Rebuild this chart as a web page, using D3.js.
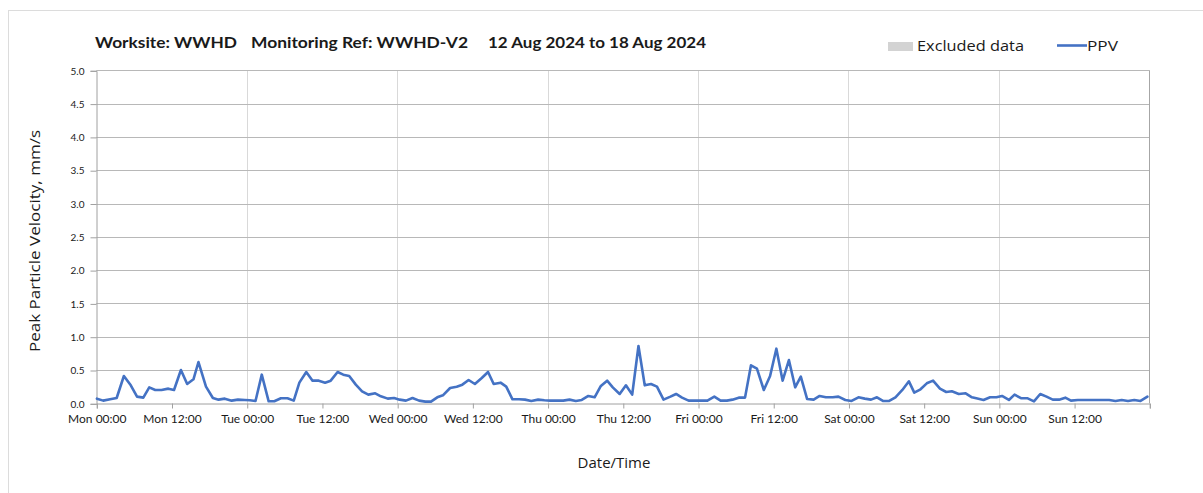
<!DOCTYPE html>
<html>
<head>
<meta charset="utf-8">
<script src="https://cdn.jsdelivr.net/npm/d3@7"></script>
<style>
  html, body { margin: 0; padding: 0; background: #fff; }
  svg { display: block; }
  text { font-family: "Open Sans", "Noto Sans", sans-serif; fill: #1a1a1a; }
</style>
</head>
<body>
<svg id="chart" width="1203" height="493"></svg>
<script>
// ---- data (hours since Mon 12 Aug 2024 00:00, PPV mm/s) ----
const startDate = new Date(2024, 7, 12, 0, 0);
const endDate = new Date(2024, 7, 19, 0, 0);
const titleParts = ["Worksite: WWHD", "Monitoring Ref: WWHD-V2", "12 Aug 2024 to 18 Aug 2024"];
const yTicks = [0, 0.5, 1.0, 1.5, 2.0, 2.5, 3.0, 3.5, 4.0, 4.5, 5.0];
const hours = [
  0.1, 1.1, 2.2, 3.25, 4.4, 5.5, 6.5, 7.5, 8.45, 9.4, 10.4, 11.5, 12.4, 13.5, 14.5, 15.5, 16.3, 17.5, 18.6, 19.5, 20.5, 21.6, 22.6, 23.7,
  24.5, 25.4, 26.4, 27.5, 28.4, 29.45, 30.5, 31.5, 32.4, 33.5, 34.5, 35.5, 36.5, 37.4, 38.5, 39.4, 40.35, 41.4, 42.4, 43.4, 44.5, 45.4, 46.5, 47.5,
  48.4, 49.4, 50.45, 51.5, 52.5, 53.4, 54.4, 55.3, 56.45, 57.5, 58.4, 59.4, 60.4, 61.5, 62.5, 63.4, 64.5, 65.4, 66.4, 67.45, 68.4, 69.4, 70.5, 71.5,
  72.4, 73.5, 74.5, 75.5, 76.5, 77.45, 78.5, 79.5, 80.5, 81.5, 82.4, 83.5, 84.5, 85.5, 86.5, 87.5, 88.5, 89.45, 90.5, 91.6, 92.5, 93.45, 94.5, 95.5,
  96.6, 97.5, 98.6, 99.6, 100.6, 101.5, 102.5, 103.5, 104.45, 105.4, 106.5, 107.5, 108.5, 109.5, 110.5, 111.5, 112.4, 113.4, 114.45, 115.4, 116.4, 117.5, 118.4, 119.5,
  120.5, 121.6, 122.6, 123.6, 124.55, 125.5, 126.5, 127.5, 128.6, 129.65, 130.5, 131.5, 132.5, 133.5, 134.6, 135.6, 136.5, 137.6, 138.7, 139.7, 140.4, 141.55, 142.6, 143.6,
  144.5, 145.6, 146.5, 147.6, 148.6, 149.6, 150.6, 151.6, 152.6, 153.6, 154.6, 155.5, 156.6, 157.6, 158.7, 159.6, 160.6, 161.6, 162.6, 163.6, 164.6, 165.6, 166.6, 167.7
];
const ppv = [
  0.07, 0.04, 0.06, 0.08, 0.41, 0.27, 0.10, 0.085, 0.24, 0.20, 0.20, 0.22, 0.20, 0.50, 0.29, 0.36, 0.62, 0.25, 0.08, 0.055, 0.07, 0.04, 0.055, 0.05,
  0.045, 0.035, 0.43, 0.03, 0.03, 0.075, 0.075, 0.04, 0.31, 0.47, 0.34, 0.34, 0.31, 0.34, 0.47, 0.43, 0.41, 0.28, 0.18, 0.13, 0.15, 0.105, 0.07, 0.08,
  0.055, 0.04, 0.08, 0.04, 0.025, 0.025, 0.09, 0.12, 0.23, 0.25, 0.28, 0.35, 0.29, 0.38, 0.47, 0.29, 0.31, 0.25, 0.06, 0.06, 0.055, 0.035, 0.055, 0.045,
  0.04, 0.04, 0.04, 0.055, 0.035, 0.05, 0.11, 0.09, 0.26, 0.34, 0.24, 0.14, 0.27, 0.13, 0.86, 0.27, 0.29, 0.25, 0.055, 0.10, 0.14, 0.085, 0.04, 0.04,
  0.04, 0.04, 0.10, 0.04, 0.04, 0.055, 0.085, 0.085, 0.57, 0.52, 0.20, 0.41, 0.82, 0.34, 0.65, 0.24, 0.40, 0.065, 0.055, 0.11, 0.09, 0.09, 0.10, 0.05,
  0.035, 0.09, 0.07, 0.055, 0.09, 0.035, 0.035, 0.09, 0.20, 0.33, 0.16, 0.21, 0.30, 0.34, 0.22, 0.17, 0.18, 0.14, 0.15, 0.09, 0.075, 0.05, 0.09, 0.09,
  0.11, 0.05, 0.13, 0.075, 0.075, 0.03, 0.14, 0.10, 0.055, 0.055, 0.085, 0.04, 0.05, 0.05, 0.05, 0.05, 0.05, 0.05, 0.035, 0.05, 0.035, 0.05, 0.035, 0.10
];
const legendLabels = ["Excluded data", "PPV"];
const xTitle = "Date/Time";
const yTitle = "Peak Particle Velocity, mm/s";

// ---- layout ----
const svg = d3.select("#chart");
const W = 1203, H = 493;
const plot = { left: 96.3, right: 1149.3, top: 70.3, bottom: 403.3 };

svg.append("rect").attr("x", 8.5).attr("y", 10.5).attr("width", W).attr("height", H)
  .attr("fill", "#fff").attr("stroke", "#dcdcdc");

const x = d3.scaleTime().domain([startDate, endDate]).range([plot.left, plot.right]);
const y = d3.scaleLinear().domain([0, 5]).range([plot.bottom, plot.top]);

const data = hours.map((h, i) => ({ t: new Date(startDate.getTime() + h * 3600e3), v: ppv[i] }));

// vertical day gridlines
const dayTicks = d3.timeDay.range(d3.timeDay.offset(startDate, 1), endDate);
svg.append("g").selectAll("line").data(dayTicks).join("line")
  .attr("x1", d => Math.round(x(d)) + 0.5).attr("x2", d => Math.round(x(d)) + 0.5)
  .attr("y1", plot.top).attr("y2", plot.bottom)
  .attr("stroke", "#d9d9d9").attr("stroke-width", 1);

// horizontal gridlines
svg.append("g").selectAll("line").data(yTicks.filter(d => d > 0)).join("line")
  .attr("x1", plot.left).attr("x2", plot.right)
  .attr("y1", d => Math.round(y(d)) + 0.5).attr("y2", d => Math.round(y(d)) + 0.5)
  .attr("stroke", "#b8b8b8").attr("stroke-width", 1);

// right border
svg.append("line").attr("x1", Math.round(plot.right) + 0.5).attr("x2", Math.round(plot.right) + 0.5)
  .attr("y1", plot.top).attr("y2", plot.bottom).attr("stroke", "#a6a6a6");

// y axis
const yAxis = d3.axisLeft(y).tickValues(yTicks).tickFormat(d3.format(".1f")).tickSize(6).tickPadding(6);
const gy = svg.append("g").attr("transform", `translate(${Math.round(plot.left) + 0.5},0.5)`).call(yAxis);
gy.select(".domain").attr("stroke", "#a0a0a0");
gy.selectAll(".tick line").attr("stroke", "#a0a0a0");
gy.selectAll(".tick text").style("font-size", "10px").style("font-family", "Lato, 'Open Sans', sans-serif").attr("fill", "#222");

// x axis
const xAxis = d3.axisBottom(x).ticks(d3.timeHour.every(12)).tickSize(5).tickPadding(6)
  .tickFormat(d => d.getTime() >= endDate.getTime() ? "" : d3.timeFormat("%a %H:%M")(d));
const gx = svg.append("g").attr("transform", `translate(0.5,${Math.round(plot.bottom) + 0.5})`).call(xAxis);
gx.select(".domain").attr("stroke", "#a0a0a0");
gx.selectAll(".tick line").attr("stroke", "#a0a0a0");
gx.selectAll(".tick text").style("font-size", "12px").style("font-family", "Lato, 'Open Sans', sans-serif").attr("fill", "#222");

// line
const line = d3.line().x(d => x(d.t)).y(d => y(d.v));
svg.append("path").datum(data).attr("d", line)
  .attr("fill", "none").attr("stroke", "#4472c4").attr("stroke-width", 2.6)
  .attr("stroke-linejoin", "round").attr("stroke-linecap", "round");

// title
const titleX = [95, 251, 488];
const titleW = [142, 217, 218];
svg.append("g").selectAll("text").data(titleParts).join("text")
  .attr("x", (d, i) => titleX[i]).attr("y", 48)
  .attr("textLength", (d, i) => titleW[i]).attr("lengthAdjust", "spacingAndGlyphs")
  .style("font-family", "Lato, 'Open Sans', sans-serif").style("font-weight", "bold").style("font-size", "16px")
  .text(d => d);

// legend
svg.append("rect").attr("x", 888).attr("y", 42).attr("width", 25).attr("height", 9).attr("fill", "#d3d3d3");
svg.append("text").attr("x", 917).attr("y", 51).attr("textLength", 107).attr("lengthAdjust", "spacingAndGlyphs")
  .style("font-size", "15px").text(legendLabels[0]);
svg.append("line").attr("x1", 1057).attr("x2", 1087).attr("y1", 45.5).attr("y2", 45.5)
  .attr("stroke", "#4472c4").attr("stroke-width", 2.6);
svg.append("text").attr("x", 1087).attr("y", 51).attr("textLength", 31).attr("lengthAdjust", "spacingAndGlyphs")
  .style("font-size", "15px").text(legendLabels[1]);

// axis titles
svg.append("text").attr("x", 614).attr("y", 468).attr("text-anchor", "middle")
  .style("font-size", "15px").text(xTitle);
svg.append("text").attr("transform", "translate(40,241) rotate(-90)").attr("text-anchor", "middle")
  .attr("textLength", 222).attr("lengthAdjust", "spacingAndGlyphs")
  .style("font-size", "15px").text(yTitle);
</script>
</body>
</html>
